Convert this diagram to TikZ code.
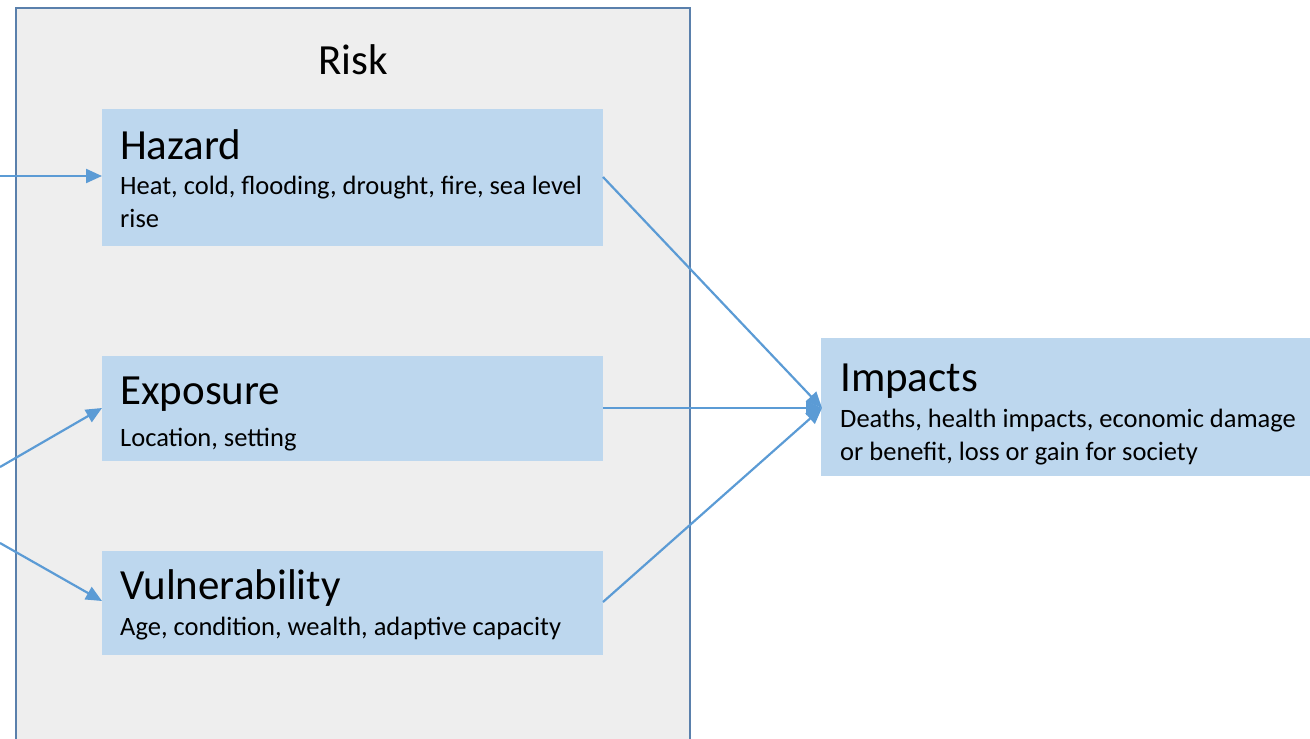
\documentclass[tikz,border=0pt]{standalone}
\usepackage{fontspec}
\setmainfont{Carlito}
\usetikzlibrary{arrows.meta}
\definecolor{riskfill}{HTML}{EEEEEE}
\definecolor{riskline}{HTML}{5A80AC}
\definecolor{boxfill}{HTML}{BDD7EE}
\definecolor{arrowc}{HTML}{5B9BD5}
\tikzset{
  panel/.style={fill=boxfill, draw=none},
  ttl/.style={anchor=base west, inner sep=0pt, font=\fontsize{43}{50}\selectfont},
  body/.style={anchor=base west, inner sep=0pt, align=left, font=\fontsize{26.5}{32.5}\selectfont},
  conn/.style={draw=arrowc, line width=2.2pt, -{Triangle[length=16pt,width=14pt]}}
}
\begin{document}
\begin{tikzpicture}[x=1pt,y=-1pt]
\useasboundingbox (0,0) rectangle (1310,739);
% Risk container
\draw[fill=riskfill, draw=riskline, line width=2pt] (16,8) rectangle (690,760);
\node[anchor=base, inner sep=0pt, font=\fontsize{43}{50}\selectfont] (risk) at (353,74) {Risk};
% boxes
\path[panel] (102,109) rectangle (603,246);
\coordinate (hazW) at (102,176); \coordinate (hazE) at (603,177);
\path[panel] (102,356) rectangle (603,461);
\coordinate (expW) at (102,408); \coordinate (expE) at (603,408);
\path[panel] (102,551) rectangle (603,655);
\coordinate (vulW) at (102,601); \coordinate (vulE) at (603,602);
\path[panel] (821,338) rectangle (1310,476);
\coordinate (impW) at (822,408);
% texts (multi-line nodes are placed by the baseline of their last line)
\node[ttl] (hazT) at (120,159) {Hazard};
\node[body] (hazB) at (120,227) {Heat, cold, flooding, drought, fire, sea level\\rise};
\node[ttl] (expT) at (120,404) {Exposure};
\node[body] (expB) at (120,446) {Location, setting};
\node[ttl] (vulT) at (120,599) {Vulnerability};
\node[body] (vulB) at (120,635) {Age, condition, wealth, adaptive capacity};
\node[ttl] (impT) at (840,391) {Impacts};
\node[body] (impB) at (840,460) {Deaths, health impacts, economic damage\\or benefit, loss or gain for society};
% free ends
\coordinate (inH) at (0,176);
\coordinate (inE) at (0,467);
\coordinate (inV) at (0,543);
% connectors
\draw[conn] (inH) -- (hazW);
\draw[conn] (inE) -- (expW);
\draw[conn] (inV) -- (vulW);
\draw[conn] (hazE) -- (impW);
\draw[conn] (expE) -- (impW);
\draw[conn] (vulE) -- (impW);
\end{tikzpicture}
\end{document}
